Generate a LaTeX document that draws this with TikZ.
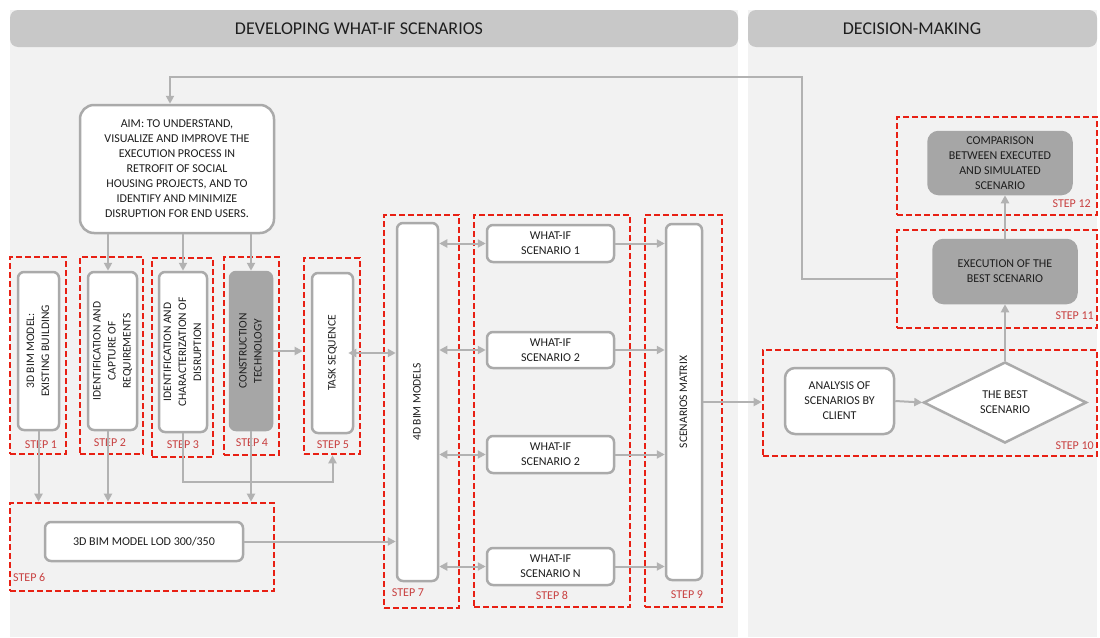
\documentclass[tikz,border=0pt]{standalone}
\usepackage{fontspec}
\setmainfont{Carlito}
\usetikzlibrary{arrows.meta,shapes.geometric}
\definecolor{panel}{RGB}{242,242,242}
\definecolor{hdr}{RGB}{200,200,200}
\definecolor{conn}{RGB}{178,178,178}
\definecolor{bord}{RGB}{170,170,170}
\definecolor{redd}{RGB}{232,32,20}
\definecolor{steptxt}{RGB}{200,64,64}
\definecolor{gfill}{RGB}{166,166,166}
\definecolor{txt}{RGB}{30,30,30}
\newcommand{\vtext}[1]{\rotatebox{90}{\fontsize{11.5}{15}\selectfont\begin{tabular}{@{}c@{}}#1\end{tabular}}}
\begin{document}
\begin{tikzpicture}[x=1pt,y=-1pt,
  font=\fontsize{12}{15}\selectfont,
  box/.style={draw=bord,line width=2.5pt,rounded corners=6pt,fill=white,text=txt,inner sep=0pt,align=center},
  gbox/.style={box,fill=gfill,draw=gfill},
  frame/.style={draw=redd,line width=2.6pt,dash pattern=on 6pt off 3pt,inner sep=0pt},
  arr/.style={draw=conn,line width=2pt,-{Triangle[length=8pt,width=8pt]}},
  darr/.style={draw=conn,line width=2pt,{Triangle[length=8pt,width=8pt]}-{Triangle[length=8pt,width=8pt]}},
  steplbl/.style={text=steptxt,font=\fontsize{12}{14}\selectfont,inner sep=0pt},
  hdrtxt/.style={text=txt,font=\fontsize{18}{21}\selectfont,inner sep=0pt}]
\useasboundingbox (0,0) rectangle (1100,637);
\fill[white] (0,0) rectangle (1100,637);
% panels
\fill[panel] (10,10) rectangle (738,637);
\fill[panel] (748,10) rectangle (1097,637);
\fill[hdr,rounded corners=8pt] (10,10) rectangle (738,47);
\fill[hdr,rounded corners=8pt] (748,10) rectangle (1097,47);
\node[hdrtxt] (hL) at (359,29) {DEVELOPING WHAT-IF SCENARIOS};
\node[hdrtxt] (hR) at (912,29) {DECISION-MAKING};

% frames
\node[frame,minimum width=56pt,minimum height=197pt] (f1) at (38,355.5) {};
\node[frame,minimum width=63pt,minimum height=197pt] (f2) at (111.5,355.5) {};
\node[frame,minimum width=61pt,minimum height=199pt] (f3) at (182.5,357.5) {};
\node[frame,minimum width=55pt,minimum height=198pt] (f4) at (251.5,356) {};
\node[frame,minimum width=56pt,minimum height=196pt] (f5) at (332,356) {};
\node[frame,minimum width=264pt,minimum height=88pt] (f6) at (142,547) {};
\node[frame,minimum width=75pt,minimum height=393pt] (f7) at (421.5,411.5) {};
\node[frame,minimum width=156pt,minimum height=392pt] (f8) at (552,411) {};
\node[frame,minimum width=77pt,minimum height=392pt] (f9) at (683.5,411) {};
\node[frame,minimum width=334pt,minimum height=106pt] (f10) at (930,403) {};
\node[frame,minimum width=200pt,minimum height=98pt] (f11) at (997,279) {};
\node[frame,minimum width=200pt,minimum height=98pt] (f12) at (997,166) {};

% boxes
\node[box,rounded corners=14pt,minimum width=194pt,minimum height=128pt] (aim) at (177,169)
  {AIM: TO UNDERSTAND,\\VISUALIZE AND IMPROVE THE\\EXECUTION PROCESS IN\\RETROFIT OF SOCIAL\\HOUSING PROJECTS, AND TO\\IDENTIFY AND MINIMIZE\\DISRUPTION FOR END USERS.};
\node[box,minimum width=41pt,minimum height=158pt] (s1) at (38.5,351) {\vtext{3D BIM MODEL:\\EXISTING BUILDING}};
\node[box,minimum width=49pt,minimum height=158pt] (s2) at (112.5,351) {\vtext{IDENTIFICATION AND\\CAPTURE OF\\REQUIREMENTS}};
\node[box,minimum width=48pt,minimum height=160pt] (s3) at (183,352) {\vtext{IDENTIFICATION AND\\CHARACTERIZATION OF\\DISRUPTION}};
\node[gbox,minimum width=42pt,minimum height=158pt] (s4) at (251,351) {\vtext{CONSTRUCTION\\TECHNOLOGY}};
\node[box,minimum width=41pt,minimum height=160pt] (s5) at (332.5,353) {\vtext{TASK SEQUENCE}};
\node[box,minimum width=198pt,minimum height=39pt] (lod) at (144,541.5) {3D BIM MODEL LOD 300/350};
\node[box,minimum width=41pt,minimum height=358pt] (bim) at (417.5,402) {\vtext{4D BIM MODELS}};
\node[box,minimum width=127pt,minimum height=37pt] (sc1) at (550.5,243.5) {WHAT-IF\\SCENARIO 1};
\node[box,minimum width=127pt,minimum height=36pt] (sc2) at (550.5,350) {WHAT-IF\\SCENARIO 2};
\node[box,minimum width=127pt,minimum height=37pt] (sc3) at (550.5,454.5) {WHAT-IF\\SCENARIO 2};
\node[box,minimum width=127pt,minimum height=37pt] (scN) at (550.5,566.5) {WHAT-IF\\SCENARIO N};
\node[box,minimum width=36pt,minimum height=356pt] (mat) at (684,402) {\vtext{SCENARIOS MATRIX}};
\node[box,rounded corners=10pt,minimum width=109pt,minimum height=66pt] (ana) at (839.5,401) {ANALYSIS OF\\SCENARIOS BY\\CLIENT};
\node[box,shape=diamond,rounded corners=0pt,minimum width=163pt,minimum height=81pt] (dia) at (1005,402.5) {THE BEST\\SCENARIO};
\node[gbox,rounded corners=10pt,minimum width=143pt,minimum height=63pt] (exe) at (1005,271.5) {EXECUTION OF THE\\BEST SCENARIO};
\node[gbox,rounded corners=10pt,minimum width=143pt,minimum height=62pt] (cmp) at (1000,163) {COMPARISON\\BETWEEN EXECUTED\\AND SIMULATED\\SCENARIO};

% step labels
\node[steplbl] (l1) at (41,445) {STEP 1};
\node[steplbl] (l2) at (110,443) {STEP 2};
\node[steplbl] (l3) at (183,445) {STEP 3};
\node[steplbl] (l4) at (252,443) {STEP 4};
\node[steplbl] (l5) at (333,445) {STEP 5};
\node[steplbl,anchor=west] (l6) at (13,577) {STEP 6};
\node[steplbl] (l7) at (408,593) {STEP 7};
\node[steplbl] (l8) at (552,595) {STEP 8};
\node[steplbl] (l9) at (687,595) {STEP 9};
\node[steplbl,anchor=east] (l10) at (1094,446) {STEP 10};
\node[steplbl,anchor=east] (l11) at (1094,316) {STEP 11};
\node[steplbl,anchor=east] (l12) at (1091,204) {STEP 12};

% helper coordinates
\coordinate (x2) at (108,0);
\coordinate (yb) at (0,482);
\coordinate (fb) at (802,77);
\coordinate (xa) at (170,0);

% connectors
\draw[arr] (x2 |- aim.south) -- (x2 |- s2.north);
\draw[arr] (s3.north |- aim.south) -- (s3.north);
\draw[arr] (s4.north |- aim.south) -- (s4.north);
\draw[arr] (s1.south) -- (s1.south |- f6.north);
\draw[arr] (x2 |- s2.south) -- (x2 |- f6.north);
\draw[arr] (s4.south) -- (s4.south |- f6.north);
\draw[arr] (s3.south) -- (s3.south |- yb) -- (s5.south |- yb) -- (s5.south |- f5.south);
\draw[arr] (s4.east) -- (s4.east -| f5.west);
\draw[darr] ([xshift=-6pt]s5.east) -- (s5.east -| bim.west);
\draw[arr] (lod.east) -- (lod.east -| bim.west);
\draw[darr] (sc1.west -| bim.east) -- (sc1.west);
\draw[darr] (sc2.west -| bim.east) -- (sc2.west);
\draw[darr] (sc3.west -| bim.east) -- (sc3.west);
\draw[darr] (scN.west -| bim.east) -- (scN.west);
\draw[arr] (sc1.east) -- (sc1.east -| mat.west);
\draw[arr] (sc2.east) -- (sc2.east -| mat.west);
\draw[arr] (sc3.east) -- (sc3.east -| mat.west);
\draw[arr] (scN.east) -- (scN.east -| mat.west);
\draw[arr] (mat.east) -- (mat.east -| f10.west);
\draw[arr] (ana.east) -- (dia.west);
\draw[arr] (dia.north) -- (dia.north |- exe.south);
\draw[arr] (exe.north) -- (exe.north |- cmp.south);
\draw[arr] (f11.west) -- (f11.west -| fb) -- (fb) -- (xa |- fb) -- (xa |- aim.north);
\end{tikzpicture}
\end{document}
